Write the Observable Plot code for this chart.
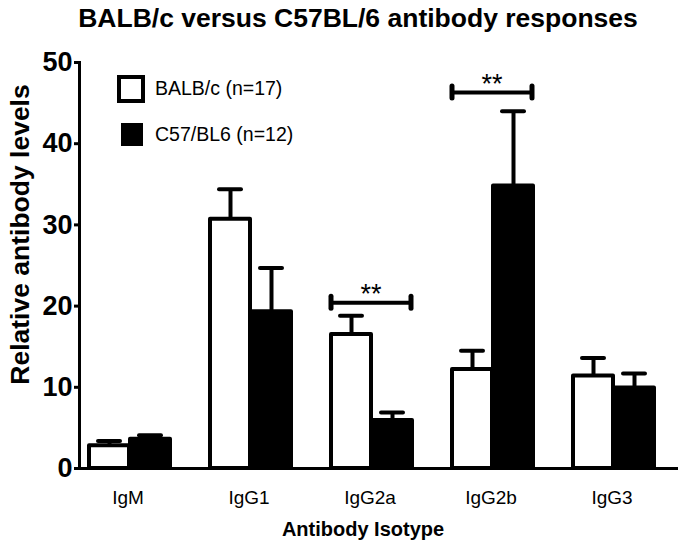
<!DOCTYPE html>
<html>
<head>
<meta charset="utf-8">
<script src="https://cdn.jsdelivr.net/npm/d3@7"></script>
<script src="https://cdn.jsdelivr.net/npm/@observablehq/plot@0.6"></script>
<style>
  html, body { margin: 0; padding: 0; background: #fff; }
  #wrap { position: relative; width: 686px; height: 549px; font-family: "Liberation Sans", Arial, sans-serif; }
  #title { height: 36px; line-height: 36px; font-size: 26.5px; font-weight: bold; text-align: center; padding-left: 30px; box-sizing: border-box; width: 686px; white-space: nowrap; }
  .leg { position: absolute; font-size: 19.5px; line-height: 22px; white-space: nowrap; }
  .sw { position: absolute; box-sizing: border-box; }
  g[aria-label="y-axis tick label"] text { font-weight: bold; }
</style>
</head>
<body>
<div id="wrap">
  <div id="title">BALB/c versus C57BL/6 antibody responses</div>
  <div id="chart"></div>
  <div class="sw" style="left:117px;top:75px;width:28px;height:28px;border:4px solid #000;background:#fff"></div>
  <div class="leg" style="left:155px;top:77px">BALB/c (n=17)</div>
  <div class="sw" style="left:121px;top:123px;width:22px;height:23px;background:#000"></div>
  <div class="leg" style="left:155px;top:123px">C57/BL6 (n=12)</div>
</div>
<script>
const isotypes = ["IgM", "IgG1", "IgG2a", "IgG2b", "IgG3"];
const balbMean = [2.8, 30.7, 16.5, 12.2, 11.4];
const balbSem  = [0.6, 3.7, 2.3, 2.3, 2.2];
const c57Mean  = [3.6, 19.3, 5.9, 34.8, 9.9];
const c57Sem   = [0.5, 5.4, 1.0, 9.2, 1.8];
const yTicks = [0, 10, 20, 30, 40, 50];
const sigGroups = ["IgG2a", "IgG2b"];
const sigLevels = [20.4, 46.3];
const sigLabels = ["**", "**"];
const xLabel = "Antibody Isotype";
const yLabel = "Relative antibody levels";

const balb = isotypes.map((k, i) => ({iso: k, mean: balbMean[i], top: balbMean[i] + balbSem[i]}));
const c57 = isotypes.map((k, i) => ({iso: k, mean: c57Mean[i], top: c57Mean[i] + c57Sem[i]}));
const sig = sigGroups.map((k, i) => ({iso: k, level: sigLevels[i], label: sigLabels[i]}));

const half = 41;
const sw = 4;

const chart = Plot.plot({
  width: 686,
  height: 513,
  marginLeft: 79,
  marginRight: 8,
  marginTop: 26,
  marginBottom: 81,
  style: {fontFamily: "'Liberation Sans', Arial, sans-serif", color: "#000", background: "#fff", overflow: "visible"},
  x: {type: "band", domain: isotypes, paddingInner: 0.328, paddingOuter: 0.119, align: 0.31, axis: null},
  y: {domain: [0, 50], axis: null},
  marks: [
    // error bars BALB
    Plot.ruleX(balb, {x: "iso", y1: "mean", y2: "top", dx: -half / 2, stroke: "#000", strokeWidth: sw}),
    Plot.tickY(balb, {x: "iso", y: "top", insetLeft: 9, insetRight: 2 * half - 32, stroke: "#000", strokeWidth: sw, strokeLinecap: "round"}),
    // error bars C57
    Plot.ruleX(c57, {x: "iso", y1: "mean", y2: "top", dx: half / 2, stroke: "#000", strokeWidth: sw}),
    Plot.tickY(c57, {x: "iso", y: "top", insetLeft: 2 * half - 32, insetRight: 9, stroke: "#000", strokeWidth: sw, strokeLinecap: "round"}),
    // bars
    Plot.barY(balb, {x: "iso", y: "mean", insetRight: half, fill: "#fff", stroke: "#000", strokeWidth: sw, strokeLinejoin: "round"}),
    Plot.barY(c57, {x: "iso", y: "mean", insetLeft: half, fill: "#000", stroke: "#000", strokeWidth: sw, strokeLinejoin: "round"}),
    // significance brackets
    Plot.ruleY(sig, {x1: "iso", x2: "iso", y: "level", stroke: "#000", strokeWidth: sw}),
    Plot.ruleX(sig, {x: "iso", y1: "level", y2: "level", dx: -half, insetTop: -6, insetBottom: -6, stroke: "#000", strokeWidth: 5, strokeLinecap: "round"}),
    Plot.ruleX(sig, {x: "iso", y1: "level", y2: "level", dx: half - 2, insetTop: -6, insetBottom: -6, stroke: "#000", strokeWidth: 5, strokeLinecap: "round"}),
    Plot.text(sig, {x: "iso", y: "level", text: "label", dx: -1, dy: 0, lineAnchor: "bottom", fontSize: 27, fill: "#000"}),
    // axes
    Plot.axisY({ticks: yTicks, tickSize: 5, tickPadding: 2, fontSize: 27, fontWeight: "bold", strokeWidth: 3, label: null}),
    Plot.axisX({tickSize: 0, tickPadding: 22, fontSize: 19, dx: -2, label: null}),
    Plot.frame({anchor: "left", strokeWidth: 3}),
    Plot.ruleY([0], {strokeWidth: 3, insetLeft: -5}),
    Plot.text([xLabel], {text: d => d, frameAnchor: "bottom", dx: -16, dy: 61, lineAnchor: "middle", fontSize: 20, fontWeight: "bold", fill: "#000"}),
    Plot.text([yLabel], {text: d => d, frameAnchor: "left", textAnchor: "middle", rotate: -90, dx: -59, dy: -31, lineAnchor: "middle", fontSize: 26.5, fontWeight: "bold", fill: "#000"})
  ]
});
document.getElementById("chart").appendChild(chart);
</script>
</body>
</html>
